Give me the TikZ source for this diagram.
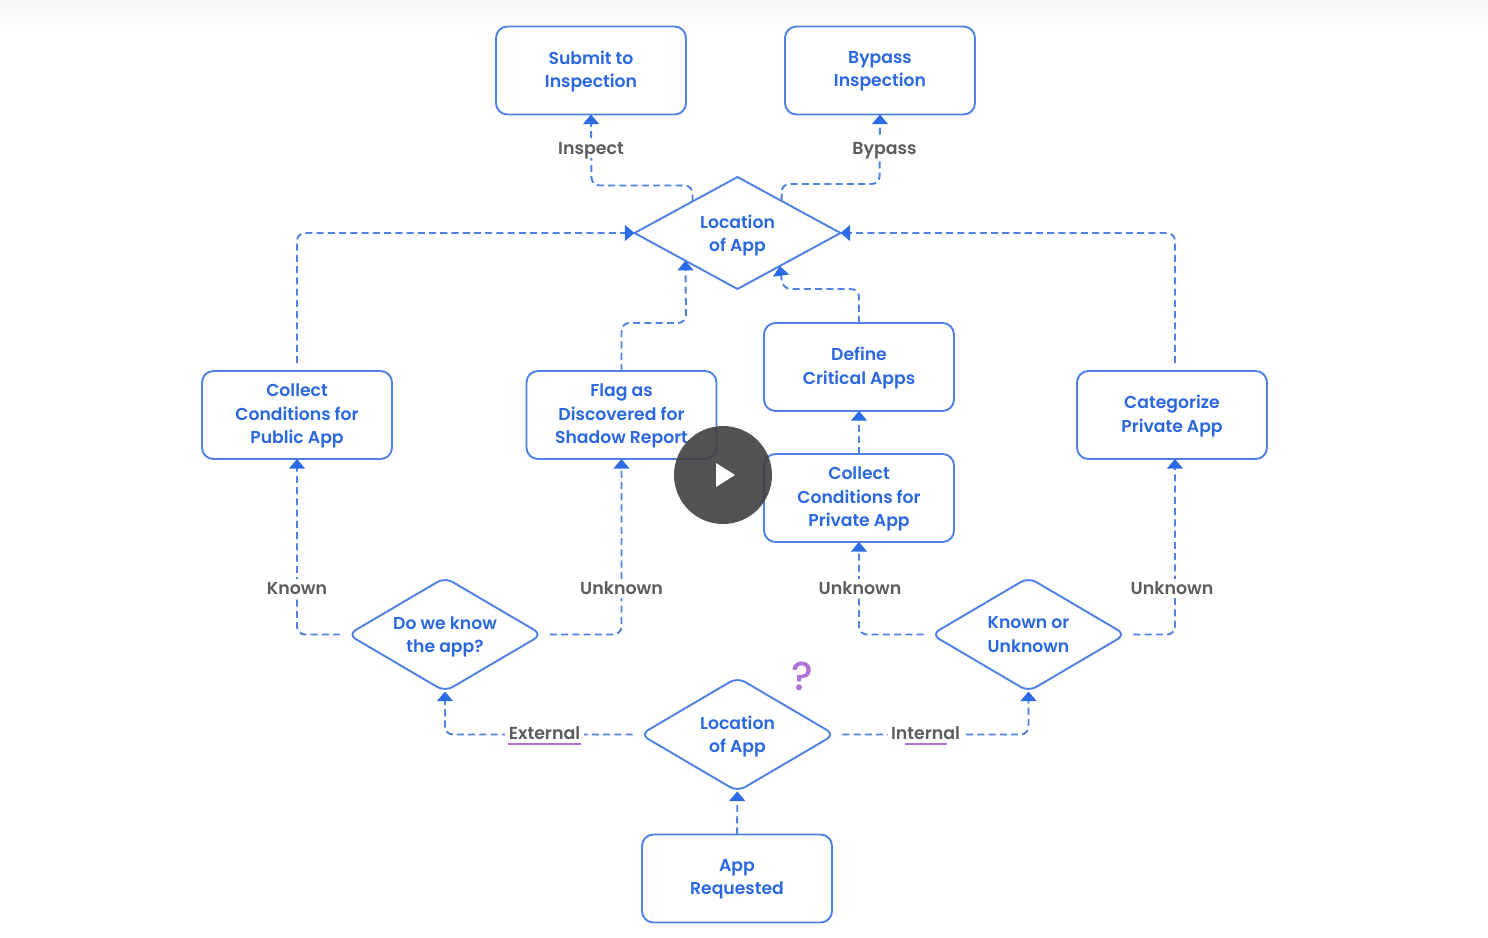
\documentclass[tikz,border=0pt]{standalone}
\usepackage{fontspec}
\setmainfont{Poppins SemiBold}
\newfontfamily\markfont{Poppins Medium}
\usetikzlibrary{arrows.meta,shapes.geometric,calc}
\definecolor{flowline}{HTML}{4F82E3}
\definecolor{flowtext}{HTML}{2B68E0}
\definecolor{flowtip}{HTML}{2B6BE6}
\definecolor{labeltext}{HTML}{5C5C5C}
\definecolor{markpurple}{HTML}{B070D8}
\definecolor{playgray}{HTML}{404040}
\tikzstyle{flowbox}=[draw=flowline,line width=1.1pt,rounded corners=6.5pt,minimum width=3.8cm,minimum height=1.76cm,align=center,text=flowtext,font=\fontsize{9.8}{13.2}\selectfont,inner sep=0pt,outer sep=0pt,text depth=1.5pt]
\tikzstyle{flowdiamond}=[flowbox,diamond,aspect=1.68,minimum width=3.88cm,minimum height=2.28cm,rounded corners=5pt,text depth=0pt]
\tikzstyle{flowarc}=[->,>={Triangle[width=9pt,length=5.5pt,fill=flowtip,color=flowtip]},flowline,line width=1.1pt,dash pattern=on 4pt off 2.4pt,rounded corners=4.5pt]
\tikzstyle{flowlabel}=[fill=white,text=labeltext,font=\fontsize{9.9}{12}\selectfont,inner sep=2pt,text height=7pt,text depth=0pt]
\tikzstyle{gapstart}=[shorten <=4.5pt]
\begin{document}
\begin{tikzpicture}[x=0.02cm,y=-0.02cm]
\useasboundingbox (0,0) rectangle (1488,937);
\fill[white] (0,0) rectangle (1488,937);
\shade[top color=black!4,bottom color=white] (0,0) rectangle (1488,30);

\node[flowbox] (SUBMIT) at (591,70.5) {Submit to\\Inspection};
\node[flowbox] (BYPASS) at (880,70.5) {Bypass\\Inspection};
\node[flowdiamond,aspect=1.84,minimum width=4.12cm,minimum height=2.24cm,rounded corners=0pt] (LOCTOP) at (737.5,233) {Location\\of App};
\node[flowbox] (PUBLIC) at (297,415) {Collect\\Conditions for\\Public App};
\node[flowbox] (FLAG) at (621.5,415) {Flag as\\Discovered for\\Shadow Report};
\node[flowbox] (CRITICAL) at (859,367) {Define\\Critical Apps};
\node[flowbox] (PRIVATE) at (859,498) {Collect\\Conditions for\\Private App};
\node[flowbox] (CATEGORIZE) at (1172,415) {Categorize\\Private App};
\node[flowdiamond] (KNOWAPP) at (445,634.5) {Do we know\\the app?};
\node[flowdiamond] (KNOWNOR) at (1028.5,634.5) {Known or\\Unknown};
\node[flowdiamond] (LOCBOTTOM) at (737.5,734.5) {Location\\of App};
\node[flowbox] (REQUESTED) at (737,878.5) {App\\Requested};

\coordinate (CATN) at ([xshift=1.7pt]CATEGORIZE.north);
\coordinate (CATS) at ([xshift=1.7pt]CATEGORIZE.south);

\draw[flowarc] (REQUESTED) -- (LOCBOTTOM);
\draw[flowarc,gapstart] (LOCBOTTOM.west) -| (KNOWAPP.south);
\draw[flowarc,gapstart] (LOCBOTTOM.east) -| (KNOWNOR.south);
\draw[flowarc,gapstart] (KNOWAPP.west) -| (PUBLIC.south);
\draw[flowarc,gapstart] (KNOWAPP.east) -| (FLAG.south);
\draw[flowarc,gapstart] (KNOWNOR.west) -| (PRIVATE.south);
\draw[flowarc,gapstart] (KNOWNOR.east) -| (CATS);
\draw[flowarc] (PRIVATE) -- (CRITICAL);
\draw[flowarc] (FLAG.north) |- ++(64.5,-48) -- (LOCTOP.208);
\draw[flowarc] (CRITICAL.north) |- ++(-76,-34) -- (LOCTOP.322);
\draw[flowarc,gapstart] (PUBLIC.north) |- (LOCTOP.west);
\draw[flowarc,gapstart] (CATN) |- (LOCTOP.east);
\draw[flowarc] (LOCTOP.145) |- ++(-101,-16) -- (SUBMIT.south);
\draw[flowarc] (LOCTOP.36) |- ++(98,-17) -- (BYPASS.south);

\node[flowlabel] (LINSPECT) at (591,148) {Inspect};
\node[flowlabel] (LBYPASS) at (884.5,148) {Bypass};
\node[flowlabel] (LKNOWN) at (297,588.5) {Known};
\node[flowlabel] (LUNKNOWNA) at (621.5,588.5) {Unknown};
\node[flowlabel] (LUNKNOWNB) at (860,588.5) {Unknown};
\node[flowlabel] (LUNKNOWNC) at (1172,588.5) {Unknown};
\node[flowlabel] (LEXTERNAL) at (544.5,733) {External};
\node[flowlabel] (LINTERNAL) at (925.5,733) {Internal};

\draw[markpurple,line width=1.1pt] (507.5,744) -- (581,744);
\draw[markpurple,line width=1.1pt] (904.5,744) -- (947,744);
\node[text=markpurple,font=\markfont\fontsize{23}{23}\selectfont,inner sep=0pt] (QUESTION) at (802,676) {?};

\node[circle,fill=playgray,fill opacity=0.9,minimum size=1.96cm,inner sep=0pt] (PLAY) at (723,475) {};
\fill[white] (716,463) -- (735,475) -- (716,487) -- cycle;
\end{tikzpicture}
\end{document}
